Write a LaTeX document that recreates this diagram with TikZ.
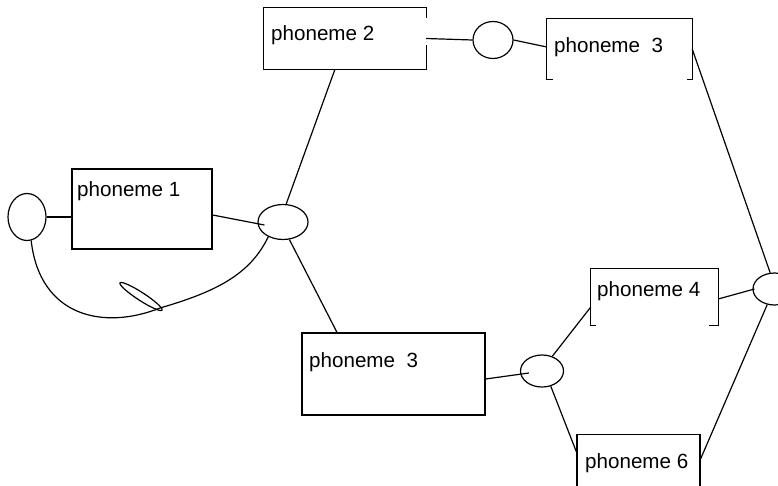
\documentclass[tikz,border=0pt]{standalone}
\usepackage{fontspec}
\setmainfont{Liberation Sans}
\usetikzlibrary{shapes.geometric}

\begin{document}
\begin{tikzpicture}[
    x=1pt, y=-1pt,
    pbox/.style={draw, rectangle, line width=1.2pt, inner sep=0pt},
    bracket/.style={rectangle, inner sep=0pt},
    junc/.style={draw, ellipse, line width=1.2pt, inner sep=0pt},
    lbl/.style={anchor=base west, inner sep=0pt, font=\fontsize{20.6}{24}\selectfont},
    ln/.style={line width=1.2pt},
]
\useasboundingbox (0,0) rectangle (778,486);
\fill[white] (0,0) rectangle (778,486);
\clip (0,0) rectangle (778,486);

% word boxes
\node[pbox, minimum width=140pt, minimum height=80pt] (p1) at (142,209) {};
\node[bracket, minimum width=162pt, minimum height=61pt] (p2) at (345,38.5) {};
\node[bracket, minimum width=145pt, minimum height=60pt] (p3a) at (619.5,49) {};
\node[pbox, minimum width=183pt, minimum height=82pt] (p3b) at (393.5,374) {};
\node[bracket, minimum width=127pt, minimum height=56pt] (p4) at (654.5,297) {};
\node[pbox, minimum width=123pt, minimum height=75pt] (p6) at (638.5,472) {};

\node[lbl] (t1) at (77,197) {phoneme 1};
\node[lbl] (t2) at (271,41) {phoneme 2};
\node[lbl] (t3a) at (554,53) {phoneme~~3};
\node[lbl] (t3b) at (309,367) {phoneme~~3};
\node[lbl] (t4) at (597,296) {phoneme 4};
\node[lbl] (t6) at (585,468) {phoneme 6};

% open sides
\draw[ln] ([yshift=-10pt]p2.north east) -- (p2.north east) -- (p2.north west)
    -- (p2.south west) -- (p2.south east) -- ([yshift=24pt]p2.south east);
\draw[ln] ([xshift=6pt]p3a.south west) -- (p3a.south west) -- (p3a.north west)
    -- (p3a.north east) -- (p3a.south east) -- ([xshift=-5pt]p3a.south east);
\draw[ln] ([xshift=5pt]p4.south west) -- (p4.south west) -- (p4.north west)
    -- (p4.north east) -- (p4.south east) -- ([xshift=-9pt]p4.south east);

% junctions
\node[junc, minimum width=38pt, minimum height=47pt] (lp) at (27,217) {};
\node[junc, minimum width=50pt, minimum height=35pt] (j1) at (283,222) {};
\node[junc, minimum width=40pt, minimum height=37pt] (j2) at (493,40) {};
\node[junc, minimum width=43pt, minimum height=32pt] (j3) at (542,371) {};
\node[junc, minimum width=43pt, minimum height=32pt] (j4) at (774.5,289) {};

% connectors
\draw[ln] (lp.east) -- (p1.west |- lp.east);
\draw[ln] ([yshift=-6pt]p1.east) -- ([xshift=7pt,yshift=-3pt]j1.west);
\draw[ln] (j1.80) -- ([xshift=-10pt]p2.south);
\draw[ln] (j1.-70) -- ([xshift=-56.5pt]p3b.north);
\draw[ln] (p2.east) -- (j2.west);
\draw[ln] (j2.east) -- ([yshift=2pt]p3a.west);
\draw[ln] (p3a.east) -- (j4.105);
\draw[ln] ([yshift=-2pt]p4.east) -- ([xshift=2pt]j4.west);
\draw[ln] (j4.-115) -- ([yshift=-25pt]p6.north east);
\draw[ln] ([yshift=-10pt]p4.west) -- (j3.55);
\draw[ln] ([yshift=-5pt]p3b.east) -- ([xshift=9pt,yshift=-2pt]j3.west);
\draw[ln] (j3.-60) -- ([yshift=-18pt]p6.north west);

% loop back
\coordinate (kink) at (160,308);
\draw[ln] (lp.-80) .. controls (40,318) and (105,330) .. (kink)
    .. controls (215,292) and (250,275) .. (j1.-135);
\node[junc, minimum width=50pt, minimum height=8pt, rotate=-33] (tip) at (141,296.5) {};
\end{tikzpicture}
\end{document}
